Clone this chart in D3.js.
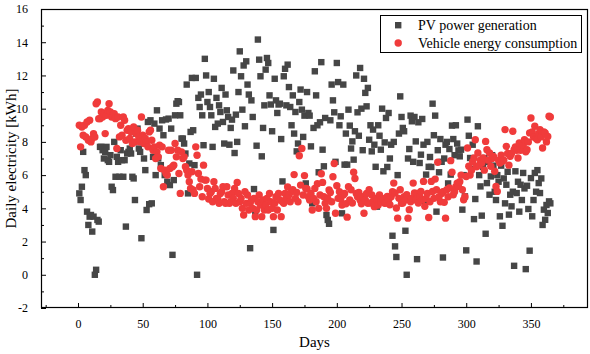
<!DOCTYPE html>
<html><head><meta charset="utf-8">
<script src="https://cdn.jsdelivr.net/npm/d3@7"></script>
<style>
html,body{margin:0;padding:0;background:#fff;}
svg{display:block;}
text{font-family:"Liberation Serif","Times New Roman",serif;fill:#000;}
</style></head>
<body><svg id="chart" width="590" height="354"></svg>
<script>
const pvValues = [
4.9,4.5,5.3,7.4,6.3,6.0,3.8,3.0,3.5,3.6,
2.6,3.5,0.0,0.3,3.3,3.2,7.7,7.7,7.5,7.0,
7.4,7.7,6.9,6.8,7.2,5.3,5.1,8.0,5.9,7.1,
6.8,5.9,7.5,6.9,5.9,6.9,2.9,7.3,7.4,7.6,
7.3,5.9,5.8,4.5,8.5,8.8,7.6,7.4,2.2,8.1,
7.0,6.3,3.9,9.2,4.25,9.3,4.3,7.1,9.1,6.0,
9.9,7.0,8.8,6.6,9.3,8.4,6.0,9.35,5.6,9.4,
5.4,8.8,1.2,5.7,9.6,10.3,10.45,10.4,9.6,8.2,
8.2,7.9,7.3,11.45,4.9,6.7,8.6,11.85,8.7,6.6,
11.85,0.0,10.65,10.1,10.85,9.6,7.8,13.0,12.0,10.4,
11.0,10.1,9.6,7.7,11.8,8.9,10.65,9.1,10.2,9.8,
11.25,9.2,7.9,10.85,9.9,9.5,7.83,8.84,9.34,12.3,
7.33,9.64,8.0,11.0,13.45,11.95,9.94,12.6,8.94,12.85,
11.45,10.85,1.6,10.5,9.5,5.16,3.8,7.77,14.16,12.95,
11.95,7.13,8.84,10.2,12.35,13.05,12.75,10.8,10.25,8.64,
2.7,11.8,10.5,9.74,10.25,10.3,8.17,5.62,11.95,12.4,
10.2,12.65,11.3,10.1,9.0,10.8,8.5,9.8,7.43,7.9,
10.4,11.15,9.94,8.3,9.58,5.5,11.0,9.74,9.58,7.73,
4.3,8.84,12.25,10.8,9.0,6.17,9.18,12.8,7.53,6.53,
9.44,3.6,3.3,3.07,9.3,11.45,10.5,9.78,6.8,12.75,
11.6,9.0,9.54,3.7,11.45,6.63,8.5,6.63,9.94,8.98,
7.6,8.03,6.93,8.64,12.0,9.78,8.37,12.45,10.0,7.5,
11.8,10.95,10.14,11.25,8.13,9.0,7.43,8.74,7.83,6.5,
4.1,9.0,8.37,7.53,10.0,6.23,7.97,9.44,6.49,9.74,
7.0,7.83,2.35,8.0,1.71,1.07,6.0,8.5,10.74,9.5,
8.84,8.64,2.65,0.0,7.0,7.57,9.58,9.24,6.8,9.5,
8.03,0.94,9.18,6.73,7.23,9.38,7.83,4.42,6.03,8.0,
6.5,7.09,6.49,10.3,8.4,9.58,3.8,7.5,6.17,8.17,
6.8,1.04,7.0,7.83,8.0,5.5,7.57,6.03,8.98,8.17,
7.2,9.0,7.9,7.49,7.13,7.53,3.92,6.0,4.72,1.47,
9.34,8.37,7.03,6.37,7.83,3.35,4.56,0.8,8.94,6.0,
5.32,3.56,6.5,7.03,2.47,5.52,6.8,4.82,5.92,7.2,
6.57,5.0,4.5,6.0,5.6,3.52,6.57,2.95,5.8,4.3,
5.42,6.2,3.62,4.82,4.12,5.0,0.54,6.23,4.92,5.6,
3.8,5.42,4.5,6.13,5.2,0.34,5.36,3.96,1.45,5.82,
3.52,4.5,6.13,5.0,6.3,5.52,4.92,5.8,3.0,3.92,
3.31,4.2,3.72,4.42,4.3
];
const evValues = [
9.0,7.7,8.9,8.4,9.0,8.3,9.2,8.1,9.3,8.0,
8.2,8.5,8.3,10.3,10.4,9.4,9.4,9.8,9.5,9.7,
8.5,9.6,9.9,10.3,9.8,9.5,9.6,9.7,9.4,7.6,
9.5,8.3,9.0,8.4,9.5,9.3,8.1,8.7,8.8,8.2,
8.6,7.9,8.9,8.0,8.5,8.7,8.3,8.0,9.5,8.4,
7.9,8.2,8.0,7.7,8.6,8.7,8.1,7.5,7.7,7.0,
7.4,7.1,7.8,6.4,7.7,5.3,6.3,6.1,6.0,7.5,
6.4,7.5,6.5,6.6,7.9,7.1,7.5,6.1,4.9,7.4,
7.0,7.1,6.5,6.3,6.0,5.6,5.2,6.2,5.1,4.9,
7.7,7.2,6.1,5.3,5.76,4.7,6.6,5.7,5.7,5.2,
4.56,4.9,5.0,4.4,5.6,5.2,4.6,4.6,4.3,4.9,
5.0,5.3,4.4,4.3,5.3,4.8,4.3,4.4,4.9,4.6,
5.2,4.3,5.56,4.9,4.4,4.6,4.0,3.6,5.0,4.3,
4.8,3.9,4.3,4.5,4.0,4.6,3.5,3.9,4.4,4.8,
4.2,3.5,4.5,3.9,4.2,4.6,3.9,4.9,4.4,4.0,
3.5,4.3,4.7,3.9,4.9,4.5,3.5,4.4,4.3,4.9,
4.6,5.28,4.8,4.4,5.0,5.12,6.03,4.6,4.96,4.4,
7.17,5.4,7.6,4.8,5.97,5.2,5.16,4.7,4.5,4.9,
3.9,4.6,5.2,4.4,5.48,4.0,4.8,6.08,5.56,4.7,
4.3,4.0,4.6,5.1,4.96,4.4,5.9,6.7,3.7,5.36,
4.6,5.0,4.56,4.2,4.8,4.9,4.28,3.47,5.3,4.5,
5.12,4.32,6.17,5.8,4.9,4.7,4.96,4.5,4.28,4.7,
3.7,4.5,4.9,4.3,5.12,4.32,4.8,4.42,4.1,4.6,
4.52,4.2,4.8,4.4,4.6,4.52,4.3,4.32,4.72,4.5,
4.22,4.7,5.0,5.52,4.92,4.02,3.41,4.6,5.12,4.3,
4.32,4.7,4.5,4.82,3.41,3.92,4.4,4.6,5.52,4.92,
4.5,4.9,4.32,4.7,5.02,4.5,5.62,4.12,4.6,4.9,
3.45,4.4,5.62,5.02,4.6,5.76,5.12,6.77,4.7,4.4,
4.9,5.0,4.36,3.41,5.12,4.7,5.22,6.87,6.17,4.82,
5.0,5.3,5.52,5.32,5.6,6.0,5.12,4.52,4.7,5.92,
7.63,6.53,6.0,6.3,6.8,7.03,8.13,6.5,7.33,6.6,
6.9,6.73,7.03,6.3,8.03,7.53,6.9,7.33,6.53,7.0,
7.13,6.23,5.32,5.02,6.9,6.73,7.2,6.83,6.9,8.74,
7.73,7.3,6.6,7.13,7.3,8.64,7.53,7.7,7.5,7.03,
7.93,7.5,7.7,7.8,8.13,7.4,7.53,8.0,8.54,9.44,
8.6,8.3,8.94,8.2,8.13,8.5,8.74,8.3,7.63,8.6,
8.54,8.0,8.33,9.54,9.5
];
const days = d3.range(1, pvValues.length + 1);
const xTicks = [0, 50, 100, 150, 200, 250, 300, 350];
const xMinorTicks = [-25, 25, 75, 125, 175, 225, 275, 325, 375];
const yTicks = [-2, 0, 2, 4, 6, 8, 10, 12, 14, 16];
const yMinorTicks = [-1, 1, 3, 5, 7, 9, 11, 13, 15];
const seriesNames = ["PV power generation", "Vehicle energy consumption"];
const xLabel = "Days";
const yLabel = "Daily electricity [kWh]";

const svg = d3.select("#chart");
const L = 41, R = 588, T = 9, B = 308;
const x = d3.scaleLinear().domain([-28.6, 394.1]).range([L, R]);
const y = d3.scaleLinear().domain([-2, 16]).range([B, T]);
const gray = "#464646", red = "#F03B3B";
const serif = '"Liberation Serif","Times New Roman",serif';

// frame
svg.append("rect").attr("x", L + 0.5).attr("y", T + 0.5)
  .attr("width", R - L - 1).attr("height", B - T - 1)
  .attr("fill", "none").attr("stroke", "#000").attr("stroke-width", 1.2);

// axes
const fmt = d => String(d);
const xAxis = svg.append("g").attr("transform", `translate(0,${B})`)
  .call(d3.axisBottom(x).tickValues(xTicks).tickSize(-5).tickPadding(11).tickFormat(fmt));
const xMinor = svg.append("g").attr("transform", `translate(0,${B})`)
  .call(d3.axisBottom(x).tickValues(xMinorTicks).tickSize(-3).tickFormat(""));
const yAxis = svg.append("g").attr("transform", `translate(${L},0)`)
  .call(d3.axisLeft(y).tickValues(yTicks).tickSize(-5).tickPadding(13).tickFormat(fmt));
const yMinor = svg.append("g").attr("transform", `translate(${L},0)`)
  .call(d3.axisLeft(y).tickValues(yMinorTicks).tickSize(-3).tickFormat(""));
[xAxis, xMinor, yAxis, yMinor].forEach(g => {
  g.attr("font-family", serif);
  g.select(".domain").remove();
  g.selectAll("line").attr("stroke", "#000").attr("stroke-width", 1);
  g.selectAll("text").attr("font-size", 12).style("font-family", serif).attr("fill", "#000");
});

// axis titles
svg.append("text").attr("x", (L + R) / 2).attr("y", 347).attr("text-anchor", "middle")
  .attr("font-size", 15).text(xLabel);
svg.append("text").attr("transform", `translate(16,${(T + B) / 2}) rotate(-90)`)
  .attr("text-anchor", "middle").attr("font-size", 15).text(yLabel);

// data
const plot = svg.append("g");
plot.selectAll("rect.pv").data(days).join("rect").attr("class", "pv")
  .attr("x", d => x(d) - 3.2).attr("y", (d, i) => y(pvValues[i]) - 3.2)
  .attr("width", 6.4).attr("height", 6.4).attr("fill", gray);
plot.selectAll("circle.ev").data(days).join("circle").attr("class", "ev")
  .attr("cx", d => x(d)).attr("cy", (d, i) => y(evValues[i]))
  .attr("r", 3.7).attr("fill", red);

// legend
const lg = svg.append("g");
lg.append("rect").attr("x", 380.5).attr("y", 15.5).attr("width", 201).attr("height", 37)
  .attr("fill", "#fff").attr("stroke", "#000").attr("stroke-width", 1);
lg.append("rect").attr("x", 395).attr("y", 22).attr("width", 6.4).attr("height", 6.4).attr("fill", gray);
lg.append("circle").attr("cx", 398.2).attr("cy", 43).attr("r", 3.7).attr("fill", red);
lg.append("text").attr("x", 418).attr("y", 30).attr("font-size", 14).text(seriesNames[0]);
lg.append("text").attr("x", 418).attr("y", 48).attr("font-size", 14).text(seriesNames[1]);
</script>
</body></html>
